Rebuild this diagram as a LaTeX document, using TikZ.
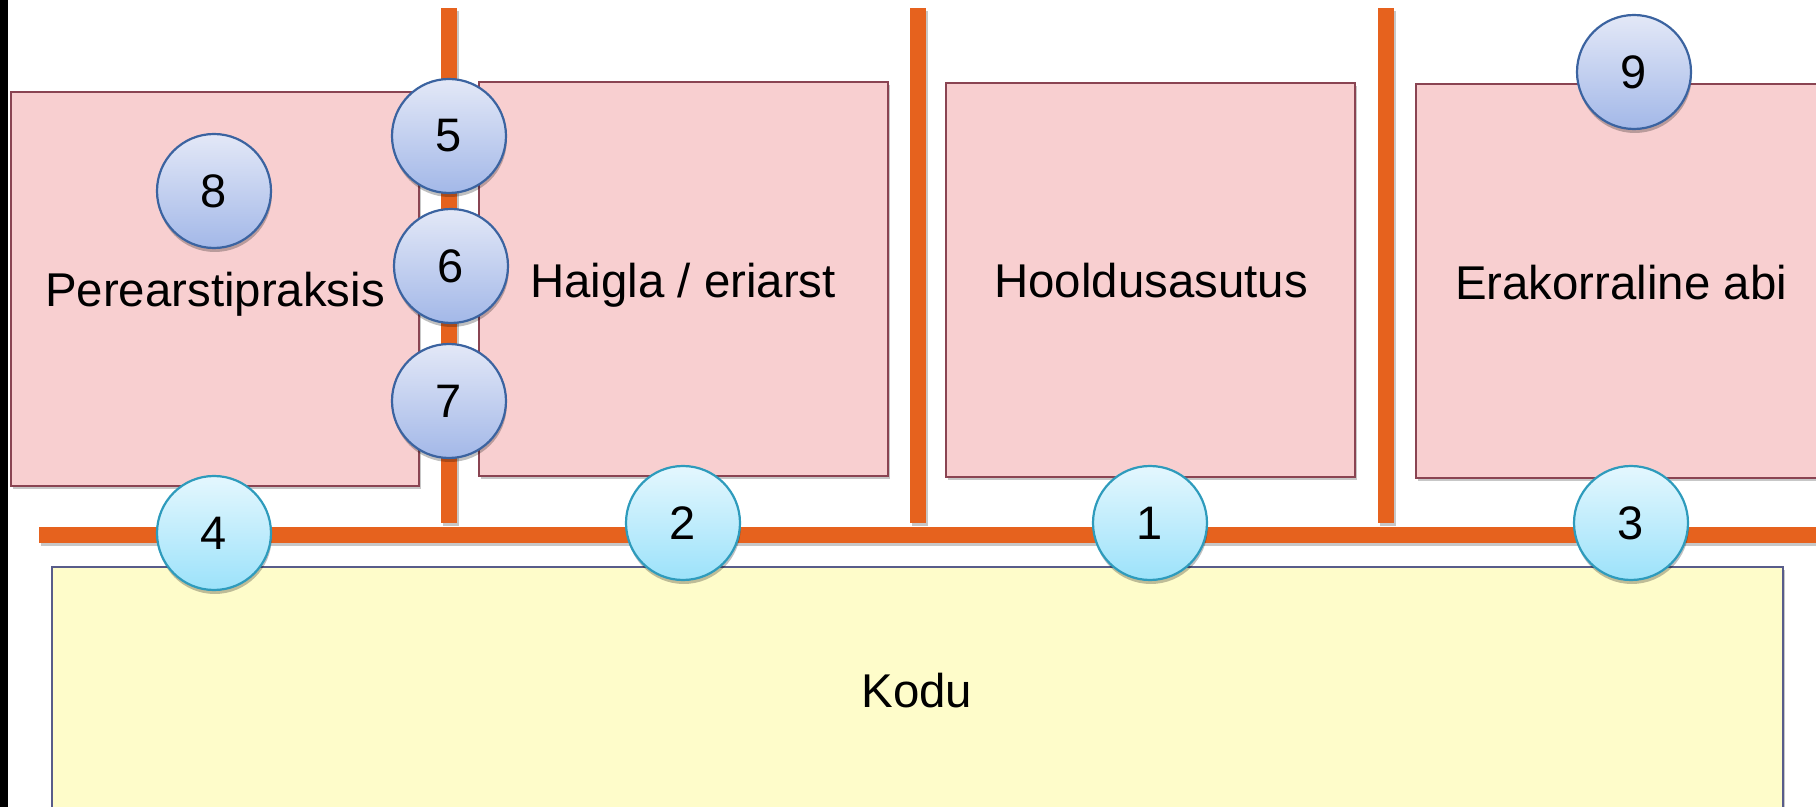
\documentclass[tikz,border=0pt]{standalone}
\usepackage{fontspec}
\setmainfont{Liberation Sans}
\usetikzlibrary{fit,shadows}

\definecolor{barorange}{HTML}{E6621E}
\definecolor{placefill}{HTML}{F8CFD0}
\definecolor{placeline}{HTML}{8A4452}
\definecolor{homefill}{HTML}{FEFCCA}
\definecolor{homeline}{HTML}{585C8A}
\definecolor{pathtop}{HTML}{E4F7FE}
\definecolor{pathbottom}{HTML}{9CE2FA}
\definecolor{pathline}{HTML}{2E9BBC}
\definecolor{linktop}{HTML}{E3E8F7}
\definecolor{linkbottom}{HTML}{A3B8E8}
\definecolor{linkline}{HTML}{3B63A0}

\begin{document}
\begin{tikzpicture}[x=0.5pt,y=-0.5pt,
  softshadow/.style={drop shadow={shadow xshift=1.2pt,shadow yshift=-1.4pt,opacity=0.22,fill=black}},
  place/.style={draw=placeline,fill=placefill,line width=0.9pt,inner sep=0pt,softshadow},
  home/.style={draw=homeline,fill=homefill,line width=0.9pt,inner sep=0pt,softshadow},
  divider/.style={fill=barorange,draw=none,inner sep=0pt,softshadow},
  caption/.style={anchor=base,inner sep=0pt,font=\fontsize{23.7}{28}\selectfont},
  badge/.style={circle,minimum size=57pt,inner sep=0pt,line width=1.1pt,
    font=\fontsize{23.5}{28}\selectfont,
    drop shadow={shadow xshift=0.4pt,shadow yshift=-2pt,opacity=0.25,fill=black}},
  pathbadge/.style={badge,draw=pathline,top color=pathtop,bottom color=pathbottom},
  linkbadge/.style={badge,draw=linkline,top color=linktop,bottom color=linkbottom}]

\useasboundingbox (0,0) rectangle (1816,807);
\clip (0,0) rectangle (1816,807);

% left edge rule
\fill[black] (0,0) rectangle (8,807);

% care settings
\node[place,fit={(11,92) (419,486)}] (peri) {};
\node[place,fit={(479,82) (888,476)}] (haigla) {};
\node[place,fit={(946,83) (1355,477)}] (hool) {};
\node[place,fit={(1416,84) (1850,478)}] (erak) {};
\node[home,fit={(52,567) (1783,840)}] (kodu) {};

% orange dividers
\node[divider,fit={(441,8) (457,523)}] (v1) {};
\node[divider,fit={(910,8) (926,523)}] (v2) {};
\node[divider,fit={(1378,8) (1394,523)}] (v3) {};
\node[divider,fit={(39,527) (1850,543)}] (h1) {};

% labels
\node[caption] (peri-t) at (215,307) {Perearstipraksis};
\node[caption] (haigla-t) at (683,298) {Haigla / eriarst};
\node[caption] (hool-t) at (1151,298) {Hooldusasutus};
\node[caption] (erak-t) at (1621,300) {Erakorraline abi};
\node[caption] (kodu-t) at (917,707) {Kodu};

% numbered markers on the home line
\node[pathbadge] (n1) at (1150,523) {1};
\node[pathbadge] (n2) at (683,523) {2};
\node[pathbadge] (n3) at (1631,523) {3};
\node[pathbadge] (n4) at (214,533) {4};

% numbered markers between settings
\node[linkbadge] (n5) at (449,136) {5};
\node[linkbadge] (n6) at (451,266) {6};
\node[linkbadge] (n7) at (449,401) {7};
\node[linkbadge] (n8) at (214,191) {8};
\node[linkbadge] (n9) at (1634,72) {9};

\end{tikzpicture}
\end{document}
